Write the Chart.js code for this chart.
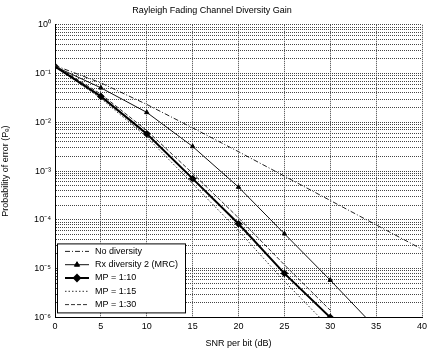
<!DOCTYPE html>
<html>
<head>
<meta charset="utf-8">
<script src="https://cdn.jsdelivr.net/npm/chart.js@4.4.1/dist/chart.umd.min.js"></script>
<style>
  html, body { margin: 0; padding: 0; background: #fff; }
  #wrap { width: 428px; height: 351px; }
</style>
</head>
<body>
<div id="wrap"><canvas id="myChart" width="428" height="351"></canvas></div>
<script>
// SNR points (dB)
var snr_db = [0, 5, 10, 15, 20, 25, 30, 35, 40];

// bit error probability
var pe_no_div = [0.146, 0.0645, 0.0233, 0.0077, 0.0025, 0.00079, 0.00025, 0.000079, 0.000025];
var pe_mrc    = [0.14, 0.051, 0.016, 0.0032, 0.00047, 0.000052, 0.0000058, 0.0000006];
var pe_mp10   = [0.14, 0.034, 0.0058, 0.0007, 0.000083, 0.000008, 0.000001];
var pe_mp15   = [0.14, 0.031, 0.005, 0.00055, 0.00006, 0.0000055, 0.0000006];
var pe_mp30   = [0.145, 0.038, 0.0068, 0.0009, 0.00011, 0.000012, 0.0000014];

var legend_names = ["No diversity", "Rx diversity 2 (MRC)", "MP = 1:10", "MP = 1:15", "MP = 1:30"];
var x_ticks = [0, 5, 10, 15, 20, 25, 30, 35, 40];
var y_exps = [0, -1, -2, -3, -4, -5, -6];
var y_tick_labels = ["10\u2070", "10\u207B\u00B9", "10\u207B\u00B2", "10\u207B\u00B3", "10\u207B\u2074", "10\u207B\u2075", "10\u207B\u2076"];

function pts(ys) {
    var out = [];
    for (var i = 0; i < ys.length; i++) {
        out.push({x: snr_db[i], y: ys[i]});
    }
    return out;
}

var FONT = "'Liberation Sans', Arial, sans-serif";

// legend drawn inside the axes, lower left like matlab
var insideLegend = {
    id: "insideLegend",
    afterDraw: function(chart) {
        var ctx = chart.ctx;
        var a = chart.chartArea;
        var bx = a.left + 2, by = a.bottom - 74, bw = 128, bh = 69;
        ctx.save();
        ctx.fillStyle = "#fff";
        ctx.fillRect(bx, by, bw, bh);
        ctx.strokeStyle = "#000";
        ctx.lineWidth = 1;
        ctx.strokeRect(bx + 0.5, by + 0.5, bw, bh);
        ctx.font = "9px " + FONT;
        ctx.textBaseline = "middle";
        ctx.fillStyle = "#000";
        chart.data.datasets.forEach(function(ds, i) {
            var yy = by + 8 + i * 13.3;
            ctx.save();
            ctx.strokeStyle = ds.borderColor;
            ctx.lineWidth = ds.borderWidth;
            ctx.setLineDash(ds.borderDash || []);
            ctx.beginPath();
            ctx.moveTo(bx + 8, yy);
            ctx.lineTo(bx + 32, yy);
            ctx.stroke();
            ctx.setLineDash([]);
            if (ds.pointRadius > 0) {
                ctx.fillStyle = ds.pointBackgroundColor;
                Chart.helpers.drawPoint(ctx, {pointStyle: ds.pointStyle, radius: ds.pointRadius + 0.5, borderWidth: 1, rotation: 0}, bx + 20, yy);
                ctx.fill();
            }
            ctx.restore();
            ctx.fillText(legend_names[i], bx + 38, yy);
        });
        ctx.restore();
    }
};

const ctxc = document.getElementById("myChart");
const chart = new Chart(ctxc, {
    type: "line",
    data: {
        datasets: [{
            label: legend_names[0],
            data: pts(pe_no_div),
            borderColor: "#222",
            borderWidth: 1,
            borderDash: [5, 2, 1, 2],
            pointRadius: 0,
            clip: 0
        }, {
            label: legend_names[1],
            data: pts(pe_mrc),
            borderColor: "#111",
            borderWidth: 1,
            pointStyle: "triangle",
            pointRadius: 2.5,
            pointBackgroundColor: "#000",
            pointBorderColor: "#000",
            clip: 0
        }, {
            label: legend_names[2],
            data: pts(pe_mp10),
            borderColor: "#000",
            borderWidth: 2,
            pointStyle: "rectRot",
            pointRadius: 2.5,
            pointBackgroundColor: "#000",
            pointBorderColor: "#000",
            clip: 0
        }, {
            label: legend_names[3],
            data: pts(pe_mp15),
            borderColor: "#333",
            borderWidth: 1,
            borderDash: [1.5, 2],
            pointRadius: 0,
            clip: 0
        }, {
            label: legend_names[4],
            data: pts(pe_mp30),
            borderColor: "#333",
            borderWidth: 1,
            borderDash: [4, 2],
            pointRadius: 0,
            clip: 0
        }]
    },
    options: {
        responsive: false,
        animation: false,
        layout: { padding: { left: 0, right: 4, top: 0, bottom: 2 } },
        plugins: {
            legend: { display: false },
            tooltip: { enabled: false },
            title: {
                display: true,
                text: "Rayleigh Fading Channel Diversity Gain",
                color: "#000",
                font: { family: FONT, size: 9, weight: "normal" },
                padding: { top: 5, bottom: 9 }
            }
        },
        scales: {
            x: {
                type: "linear",
                min: 0,
                max: 40,
                afterBuildTicks: function(scale) {
                    scale.ticks = x_ticks.map(function(v) { return {value: v}; });
                },
                afterFit: function(scale) {
                    // let the last label hang off the edge like the original
                    scale.paddingRight = 0;
                    scale.paddingLeft = 0;
                },
                ticks: {
                    color: "#000",
                    font: { family: FONT, size: 9 },
                    padding: 4,
                    maxRotation: 0
                },
                grid: {
                    color: "#444",
                    lineWidth: 1,
                    borderDash: [1, 2],
                    drawTicks: false
                },
                border: { display: true, color: "#000", dash: [1, 1] },
                title: {
                    display: true,
                    text: "SNR per bit (dB)",
                    color: "#000",
                    font: { family: FONT, size: 9 },
                    padding: { top: 2, bottom: 0 }
                }
            },
            y: {
                type: "logarithmic",
                min: 1e-6,
                max: 1,
                afterBuildTicks: function(scale) {
                    var t = [];
                    for (var e = -6; e <= 0; e++) {
                        for (var m = 1; m <= 9; m++) {
                            var v = m * Math.pow(10, e);
                            if (v > 1.0000001) break;
                            t.push({value: parseFloat(v.toPrecision(3))});
                        }
                    }
                    scale.ticks = t;
                },
                afterFit: function(scale) { scale.width = 55; },
                ticks: {
                    autoSkip: false,
                    color: "#000",
                    font: { family: FONT, size: 9 },
                    padding: 4,
                    callback: function(v) {
                        var e = Math.round(Math.log10(v));
                        if (Math.abs(v - Math.pow(10, e)) < Math.pow(10, e) * 1e-6) {
                            return y_tick_labels[y_exps.indexOf(e)];
                        }
                        return "";
                    }
                },
                grid: {
                    color: "#444",
                    lineWidth: 1,
                    borderDash: [1, 2],
                    drawTicks: false
                },
                border: { display: true, color: "#000", dash: [1, 1] },
                title: {
                    display: true,
                    text: "Probability of error (P\u2091)",
                    color: "#000",
                    font: { family: FONT, size: 9 },
                    padding: { top: 0, bottom: 2 }
                }
            }
        }
    },
    plugins: [insideLegend]
});
</script>
</body>
</html>
